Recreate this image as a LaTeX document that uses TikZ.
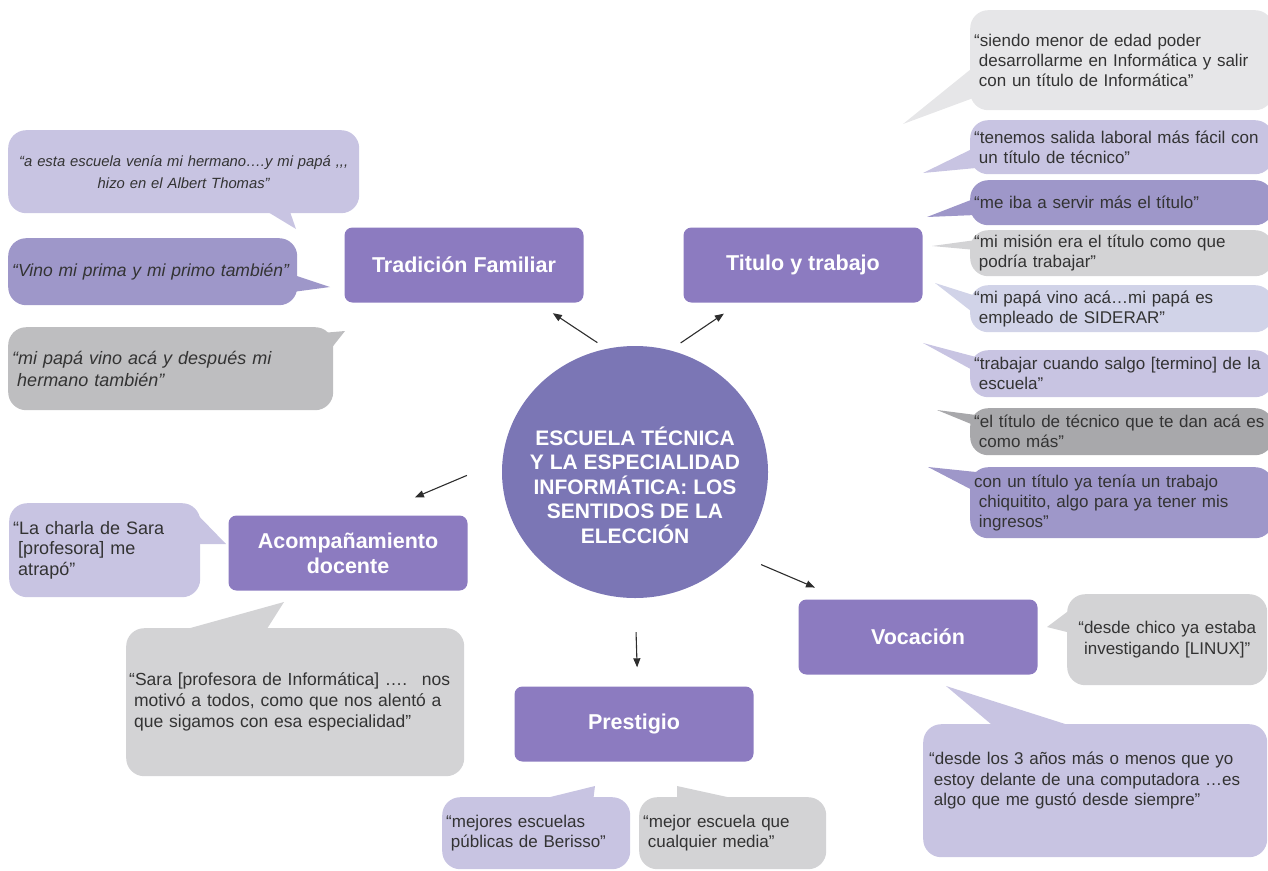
\documentclass[tikz,border=0pt]{standalone}
\usepackage{fontspec}
\setmainfont{Liberation Sans}
\usetikzlibrary{arrows.meta,shapes.geometric}

\definecolor{catfill}{RGB}{140,123,192}
\definecolor{corefill}{RGB}{123,118,181}
\definecolor{lav}{RGB}{200,196,226}
\definecolor{med}{RGB}{158,151,201}
\definecolor{pale}{RGB}{209,211,232}
\definecolor{qlgray}{RGB}{230,230,232}
\definecolor{qgray}{RGB}{211,211,213}
\definecolor{qdgray}{RGB}{190,190,192}
\definecolor{qdark}{RGB}{168,168,171}
\definecolor{qtext}{RGB}{51,51,51}
\definecolor{linkgray}{RGB}{45,45,45}

\newcommand{\qind}{\hspace*{0.28em}}

\begin{document}
\begin{tikzpicture}[x=1pt,y=-1pt,
    cat/.style = {rectangle, rounded corners=8pt, fill=catfill, text=white,
        font=\fontsize{21.5}{25}\selectfont\bfseries, align=center,
        minimum width=239pt, minimum height=75pt},
    core/.style = {ellipse, fill=corefill, inner sep=0pt,
        minimum width=266pt, minimum height=252pt},
    quote/.style = {rectangle, rounded corners=18pt, text=qtext,
        inner xsep=4pt, inner ysep=0pt, anchor=north west, align=left,
        font=\fontsize{17}{20.5}\selectfont},
    link/.style = {draw=linkgray, line width=1.1pt,
        -{Triangle[length=9pt,width=7pt]}},
    ]
    \useasboundingbox (0,0) rectangle (1268,870);

    % tails of the quotes
    \foreach \ya/\yb/\tip/\cc in {65/97/{903,124}/qlgray, 147/168/{923,173}/lav,
        198/215/{927,217}/med, 240/250/{932,246}/qgray, 296/315/{935,283}/pale,
        357/372/{923,343}/lav, 415/426/{937,410}/qdark, 472/492/{928,467}/med}
    \fill[\cc] (976,\ya) -- (\tip) -- (976,\yb) -- cycle;
    \fill[lav]    (258,206) -- (296,229) -- (288,206) -- cycle;
    \fill[med]    (285,272) -- (330,287) -- (285,293) -- cycle;
    \fill[qdgray] (322,333) -- (345,331) -- (330,350) -- cycle;
    \fill[lav]    (192,509) -- (226,544) -- (192,544) -- cycle;
    \fill[qgray]  (176,632) -- (284,602) -- (265,632) -- cycle;
    \fill[lav]    (530,802) -- (595,786) -- (593,802) -- cycle;
    \fill[qgray]  (677,802) -- (677,786) -- (750,802) -- cycle;
    \fill[qgray]  (1075,606) -- (1047,627) -- (1075,634) -- cycle;
    \fill[lav]    (998,730) -- (946,686) -- (1084,730) -- cycle;

    % right column: titulo y trabajo
    \foreach \nm/\yy/\hh/\cc/\tx in {
        r1/10/100/qlgray/{“siendo menor de edad poder\\\qind desarrollarme en Informática y salir\\\qind con un título de Informática”},
        r2/120/54/lav/{“tenemos salida laboral más fácil con\\\qind un título de técnico”},
        r3/180/45/med/{“me iba a servir más el título”},
        r4/230/46/qgray/{“mi misión era el título como que\\\qind podría trabajar”},
        r5/285/47/pale/{“mi papá vino acá…mi papá es\\\qind empleado de SIDERAR”},
        r6/350/47/lav/{“trabajar cuando salgo [termino] de la\\\qind escuela”},
        r7/408/47/qdark/{“el título de técnico que te dan acá es\\\qind como más”},
        r8/467/71/med/{con un título ya tenía un trabajo\\\qind chiquitito, algo para ya tener mis\\\qind ingresos”}}
    \node[quote, fill=\cc, inner xsep=4pt, text width=295pt, minimum height=\hh pt,
        font=\fontsize{17}{20}\selectfont] (\nm) at (970,\yy) {\tx};

    % left column: tradicion familiar
    \node[quote, fill=lav, text width=343pt, minimum height=83pt, align=center,
        font=\fontsize{14.8}{22}\selectfont\itshape] (q1) at (8,130)
        {“a esta escuela venía mi hermano….y mi papá ,{},{},\\hizo en el Albert Thomas”};
    \node[quote, fill=med, text width=281pt, minimum height=67pt,
        font=\fontsize{17.5}{22}\selectfont\itshape] (q2) at (8,238)
        {“Vino mi prima y mi primo también”};
    \node[quote, fill=qdgray, text width=317pt, minimum height=83pt,
        font=\fontsize{18}{22}\selectfont\itshape] (q3) at (8,327)
        {“mi papá vino acá y después mi\\\qind hermano también”};

    % acompanamiento docente
    \node[quote, fill=lav, text width=183pt, minimum height=94pt,
        font=\fontsize{18}{20.5}\selectfont] (q4) at (9,503)
        {“La charla de Sara\\\qind [profesora] me\\\qind atrapó”};
    \node[quote, fill=qgray, inner xsep=3pt, text width=332pt, minimum height=148pt,
        font=\fontsize{17.5}{21}\selectfont] (q5) at (126,628)
        {“Sara [profesora de Informática] …. \ nos\\\qind motivó a todos, como que nos alentó a\\\qind que sigamos con esa especialidad”};

    % prestigio
    \node[quote, fill=lav, text width=180pt, minimum height=72pt] (q6) at (442,797)
        {“mejores escuelas\\\qind públicas de Berisso”};
    \node[quote, fill=qgray, text width=179pt, minimum height=72pt] (q7) at (639,797)
        {“mejor escuela que\\\qind cualquier media”};

    % vocacion
    \node[quote, fill=qgray, text width=192pt, minimum height=91pt, align=center] (q8)
        at (1067,594) {“desde chico ya estaba\\investigando [LINUX]”};
    \node[quote, fill=lav, inner xsep=6pt, text width=332pt, minimum height=133pt] (q9)
        at (923,724) {“desde los 3 años más o menos que yo\\\qind estoy delante de una computadora …es\\\qind algo que me gustó desde siempre”\\[3pt]\mbox{}};

    % categories
    \node[cat] (trad)  at (464,265) {Tradición Familiar};
    \node[cat] (tit)   at (803,265) {Titulo y trabajo};
    \node[cat] (acomp) at (348,553) {Acompañamiento\\docente};
    \node[cat] (prest) at (634,724) {Prestigio};
    \node[cat] (voc)   at (918,637) {Vocación};

    % centre
    \node[core] (c) at (635,472) {};
    \node[text=white, align=center, font=\fontsize{21}{24.5}\selectfont\bfseries]
        (ctext) at (635,485)
        {ESCUELA TÉCNICA\\Y LA ESPECIALIDAD\\INFORMÁTICA: LOS\\SENTIDOS DE LA\\ELECCIÓN};

    \draw[link, shorten <=11pt, shorten >=19pt] (c.103.75) -- ([xshift=73pt]trad.south);
    \draw[link, shorten <=13pt, shorten >=19.5pt] (c.74.2) -- ([xshift=-63pt]tit.south);
    \draw[link, shorten <=38.5pt, shorten >=46pt] (c.175.3) -- ([xshift=24.5pt]acomp.north);
    \draw[link, shorten <=34pt, shorten >=19pt] (c.270) -- ([xshift=3.7pt]prest.north);
    \draw[link, shorten <=27pt, shorten >=30pt] (c.321.5) -- ([xshift=-75.4pt]voc.north);
\end{tikzpicture}
\end{document}
